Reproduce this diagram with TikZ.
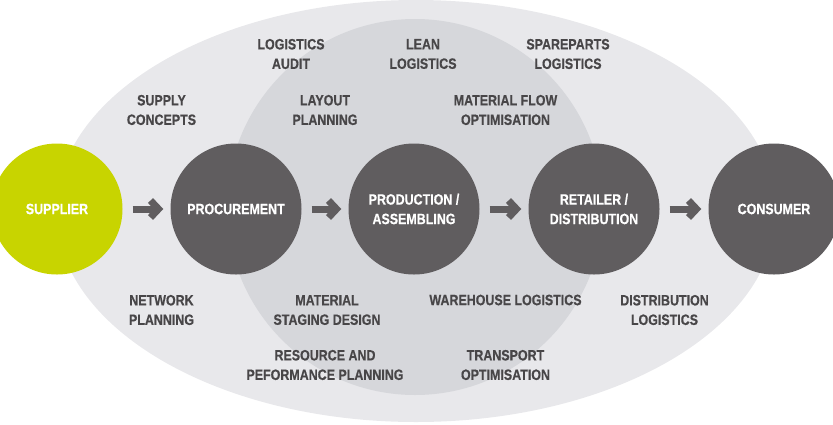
\documentclass[tikz,border=0pt]{standalone}
\usepackage{fontspec}
\setmainfont{Liberation Sans}[FakeStretch=0.83, BoldFeatures={FakeBold=0.4}]
\usetikzlibrary{arrows.meta}
\definecolor{outerg}{HTML}{E8E8EB}
\definecolor{innerg}{HTML}{D6D7DB}
\definecolor{darkc}{HTML}{605D5F}
\definecolor{greenc}{HTML}{C8D400}
\definecolor{labelc}{HTML}{484648}
\begin{document}
\begin{tikzpicture}[x=1pt,y=-1pt,
  stage/.style={circle, fill=darkc, minimum size=131pt, inner sep=0pt, text=white,
    font=\fontsize{15}{19.5}\selectfont\bfseries, align=center},
  lbl/.style={text=labelc, font=\fontsize{15}{19.5}\selectfont\bfseries, align=center, inner sep=0pt},
  flow/.style={draw=darkc, line width=7pt, -{Straight Barb[length=8pt,width=17pt]}}]
\clip (0,0) rectangle (833,424);
\fill[outerg] (416,211) ellipse [x radius=360, y radius=211];
\fill[innerg] (415,207) circle [radius=188];

\node[stage, fill=greenc] (sup) at (57,209) {SUPPLIER};
\node[stage] (pro) at (236,209) {PROCUREMENT};
\node[stage] (prd) at (414,209) {PRODUCTION /\\ASSEMBLING};
\node[stage] (ret) at (594,209) {RETAILER /\\DISTRIBUTION};
\node[stage] (con) at (774,209) {CONSUMER};

\draw[flow] ([xshift=10pt]sup.east) -- ([xshift=-7pt]pro.west);
\draw[flow] ([xshift=10pt]pro.east) -- ([xshift=-7pt]prd.west);
\draw[flow] ([xshift=10pt]prd.east) -- ([xshift=-7pt]ret.west);
\draw[flow] ([xshift=10pt]ret.east) -- ([xshift=-7pt]con.west);

\node[lbl] (la) at (291,54) {LOGISTICS\\AUDIT};
\node[lbl] (ll) at (423,54) {LEAN\\LOGISTICS};
\node[lbl] (sp) at (568,54) {SPAREPARTS\\LOGISTICS};
\node[lbl] (sc) at (161.5,110) {SUPPLY\\CONCEPTS};
\node[lbl] (lp) at (325,110) {LAYOUT\\PLANNING};
\node[lbl] (mf) at (505.5,110) {MATERIAL FLOW\\OPTIMISATION};
\node[lbl] (np) at (161.5,310) {NETWORK\\PLANNING};
\node[lbl] (ms) at (327,310) {MATERIAL\\STAGING DESIGN};
\node[lbl] (wl) at (505.5,300) {WAREHOUSE LOGISTICS};
\node[lbl] (dl) at (664.5,310) {DISTRIBUTION\\LOGISTICS};
\node[lbl] (rp) at (325,365) {RESOURCE AND\\PEFORMANCE PLANNING};
\node[lbl] (to) at (505.5,365) {TRANSPORT\\OPTIMISATION};
\end{tikzpicture}
\end{document}
